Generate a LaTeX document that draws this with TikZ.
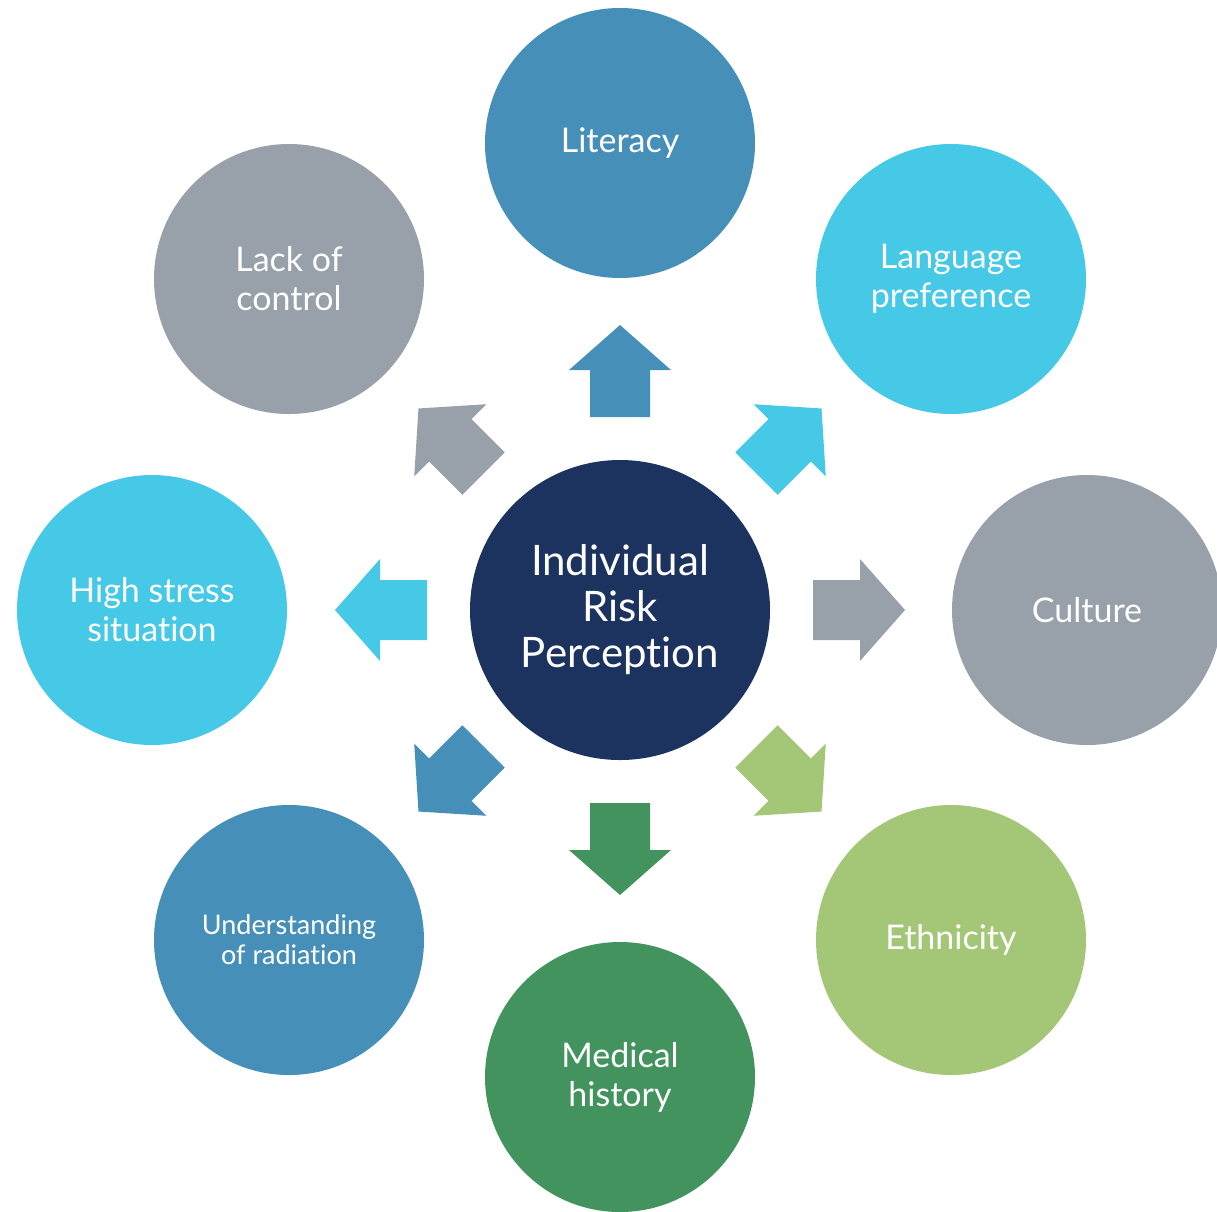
\documentclass[tikz,border=0pt]{standalone}
\usepackage{fontspec}
\setmainfont{Lato}[Ligatures=NoCommon]
\definecolor{cblue}{HTML}{468FB9}
\definecolor{ccyan}{HTML}{45C9E6}
\definecolor{cgrey}{HTML}{98A0A9}
\definecolor{clgreen}{HTML}{A3C777}
\definecolor{cdgreen}{HTML}{43935E}
\definecolor{cnavy}{HTML}{1C325F}
\begin{document}
\begin{tikzpicture}[x=1pt,y=-1pt,
  bubble/.style={circle, minimum size=270pt, inner sep=0pt, text=white, align=center,
    font=\fontsize{34}{39}\selectfont},
  hub/.style={circle, minimum size=300pt, inner sep=0pt, text=white, align=center,
    fill=cnavy, font=\fontsize{42}{46}\selectfont}]
\useasboundingbox (0,0) rectangle (1217,1211);
\clip (0,0) rectangle (1217,1211);
\node[hub] (ctr) at (620,610) {Individual\\Risk\\Perception};
\node[bubble, fill=cblue] (lit) at (620,143) {Literacy};
\node[bubble, fill=ccyan] (lang) at (951,279) {Language\\preference};
\node[bubble, fill=cgrey] (cult) at (1087,610) {Culture};
\node[bubble, fill=clgreen] (eth) at (951,940) {Ethnicity};
\node[bubble, fill=cdgreen] (med) at (620,1077) {Medical\\history};
\node[bubble, fill=cblue, font=\fontsize{27}{30}\selectfont] (und) at (289,940) {Understanding\\of radiation};
\node[bubble, fill=ccyan] (hss) at (152,610) {High stress\\situation};
\node[bubble, fill=cgrey] (loc) at (289,279) {Lack of\\control};
\foreach \ang/\col in {90/cblue, 45/ccyan, 0/cgrey, -45/clgreen, -90/cdgreen, -135/cblue, 180/ccyan, 135/cgrey}
  \fill[\col, shift={(ctr.center)}, rotate=\ang]
    (193,-30) -- (240,-30) -- (240,-51) -- (285,0) -- (240,51) -- (240,30) -- (193,30) -- cycle;
\end{tikzpicture}
\end{document}
